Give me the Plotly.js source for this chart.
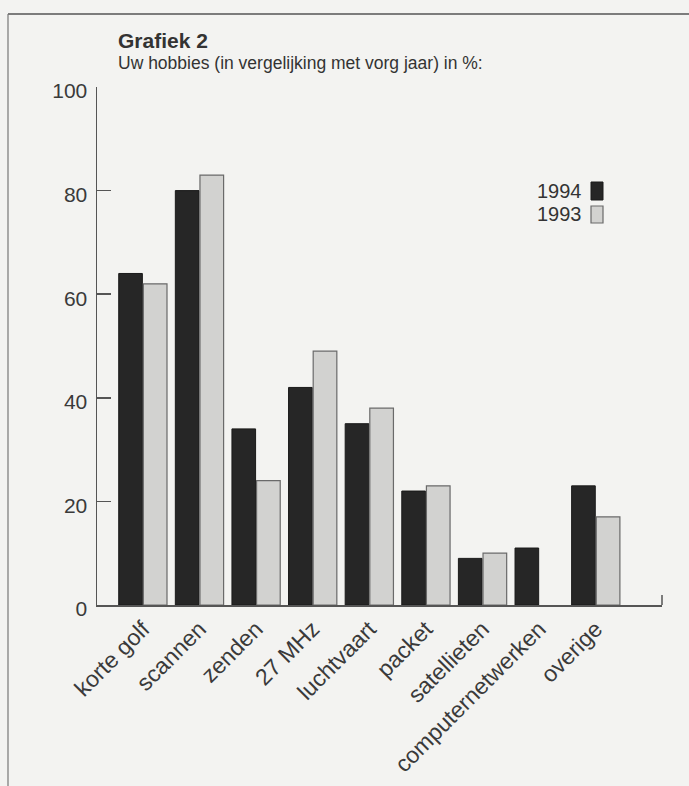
<!DOCTYPE html>
<html>
<head>
<meta charset="utf-8">
<script src="https://cdn.plot.ly/plotly-3.0.1.min.js"></script>
<style>html,body{margin:0;padding:0;background:#f3f3f1;}#chart{width:689px;height:786px;}</style>
</head>
<body>
<div id="chart"></div>
<script>
const categories = ["korte golf","scannen","zenden","27 MHz","luchtvaart","packet","satellieten","computernetwerken","overige"];
const values1994 = [64, 80, 34, 42, 35, 22, 9, 11, 23];
const values1993 = [62, 83, 24, 49, 38, 23, 10, 0, 17];
const yTicks = [0, 20, 40, 60, 80, 100];
const seriesNames = ["1994", "1993"];

const font = "Liberation Sans, Arial, sans-serif";
const lineW = (vals, w) => vals.map(v => v > 0 ? w : 0);

const traces = [
  {type:"bar", name:seriesNames[0], x:categories, y:values1994,
   marker:{color:"#262626", line:{color:"#1a1a1a", width:lineW(values1994, 1)}}, showlegend:false, hoverinfo:"x+y"},
  {type:"bar", name:seriesNames[1], x:categories, y:values1993,
   marker:{color:"#d2d2d0", line:{color:"#6a6a6a", width:lineW(values1993, 1.2)}}, showlegend:false, hoverinfo:"x+y"}
];

const W = 689, H = 786, L = 97, R = 27, T = 87, B = 181;
const pw = W - L - R, ph = H - T - B;
const px = x => (x - L) / pw;
const py = y => (H - B - y) / ph;

const layout = {
  width:W, height:H,
  paper_bgcolor:"#f3f3f1", plot_bgcolor:"#f3f3f1",
  margin:{l:L, r:R, t:T, b:B},
  barmode:"group", bargap:0.13, bargroupgap:0.04,
  font:{family:font, color:"#333", size:15},
  xaxis:{type:"category", range:[-0.81, 9.17], showline:true, linecolor:"#555", linewidth:1.5,
    ticks:"", tickangle:-45, tickfont:{size:23, color:"#3a3a3a"}, showgrid:false, zeroline:false},
  yaxis:{range:[0,100], tickvals:yTicks, showline:true, linecolor:"#555", linewidth:1.5,
    ticks:"inside", ticklen:14, tickcolor:"#555", tickwidth:1.5, tickfont:{size:21, color:"#3a3a3a"},
    showgrid:false, zeroline:false, ticklabelstandoff:4, ticklabelshift:4},
  annotations:[
    {xref:"paper", yref:"paper", x:px(116), y:py(40), xanchor:"left", yanchor:"middle",
     text:"<b>Grafiek 2</b>", showarrow:false, font:{size:21, color:"#333", family:font}},
    {xref:"paper", yref:"paper", x:px(116), y:py(63), xanchor:"left", yanchor:"middle",
     text:"Uw hobbies (in vergelijking met vorg jaar) in %:", showarrow:false, font:{size:17.5, color:"#333", family:font}},
    {xref:"paper", yref:"paper", x:px(584), y:py(191), xanchor:"right", yanchor:"middle",
     text:seriesNames[0], showarrow:false, font:{size:20, color:"#333", family:font}},
    {xref:"paper", yref:"paper", x:px(584), y:py(214), xanchor:"right", yanchor:"middle",
     text:seriesNames[1], showarrow:false, font:{size:20, color:"#333", family:font}}
  ],
  shapes:[
    {type:"rect", xref:"paper", yref:"paper", x0:px(591), x1:px(603),
     y0:py(200), y1:py(182), fillcolor:"#262626", line:{color:"#1a1a1a", width:1}},
    {type:"rect", xref:"paper", yref:"paper", x0:px(591), x1:px(603),
     y0:py(223), y1:py(206), fillcolor:"#d2d2d0", line:{color:"#6a6a6a", width:1.2}},
    {type:"line", xref:"paper", yref:"paper", x0:px(8), x1:px(689),
     y0:py(14), y1:py(14), line:{color:"#555", width:1.5}},
    {type:"line", xref:"paper", yref:"paper", x0:px(8), x1:px(8),
     y0:py(786), y1:py(14), line:{color:"#777", width:1.2}},
    {type:"line", xref:"paper", yref:"paper", x0:1, x1:1, y0:0, y1:10/ph, line:{color:"#555", width:1.5}}
  ]
};

Plotly.newPlot("chart", traces, layout, {displayModeBar:false, staticPlot:true});
</script>
</body>
</html>
